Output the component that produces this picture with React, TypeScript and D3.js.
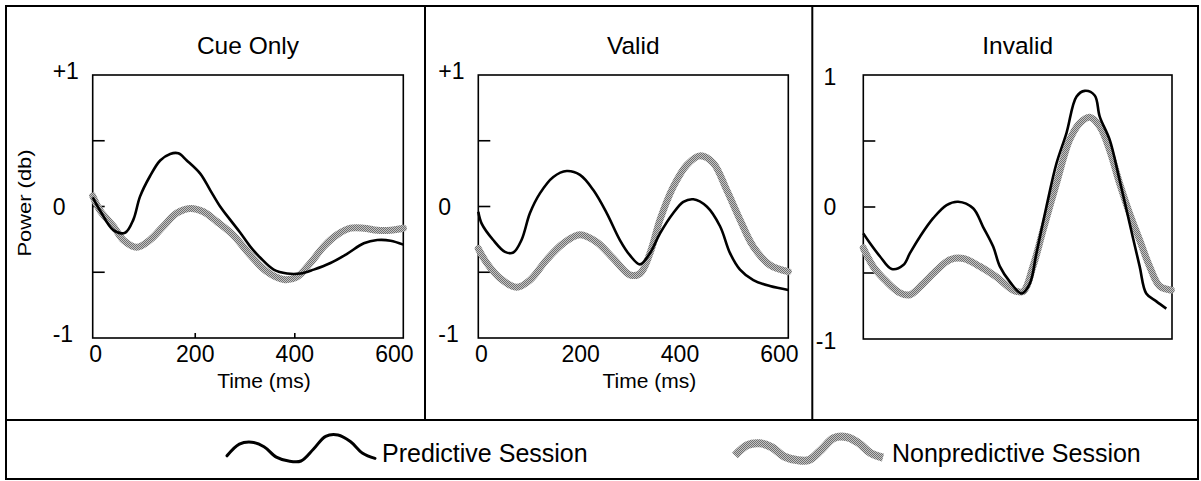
import React from "react";
import * as d3 from "d3";

// ---------- DATA ----------
const panelTitles = ["Cue Only", "Valid", "Invalid"];
const xTickValues = [0, 200, 400, 600];
const yLabelValues = [1, 0, -1];
const yLabelsSigned = ["+1", "0", "-1"];
const yLabelsPlain = ["1", "0", "-1"];
const yInnerTicks = [0.5, 0, -0.5];
const xBottomTicks = [200, 400];
const legendLabels = ["Predictive Session", "Nonpredictive Session"];
const legendWave = [-0.6, 0.3, 0.45, 0.1, -0.7, -1, -1, -0.1, 0.9, 1, 0.5, -0.4, -0.8];

// [time (ms), power (db)]
const cuePredictive: [number, number][] = [
  [-6, 0.07], [8.7, -0.03], [35.5, -0.18], [59, -0.2], [75.7, -0.1], [89, 0.075],
  [109, 0.23], [129.5, 0.35], [149.6, 0.4], [166, 0.405], [183, 0.35], [210, 0.25],
  [230, 0.125], [250, 0], [270, -0.1], [290.5, -0.2], [310.6, -0.305], [330.8, -0.39],
  [357.6, -0.48], [384.5, -0.51], [411, -0.51], [438, -0.48], [471.7, -0.43],
  [505, -0.36], [538.7, -0.28], [565.7, -0.255], [592.5, -0.26], [618, -0.29],
];
const cueNonpredictive: [number, number][] = [
  [-6, 0.08], [8.7, -0.03], [35.5, -0.15], [55.6, -0.255], [82.6, -0.31], [109, -0.255],
  [136, -0.15], [163, -0.05], [190, -0.015], [216.6, -0.04], [243.6, -0.115],
  [277, -0.22], [310.6, -0.37], [344, -0.495], [377.7, -0.555], [404.6, -0.535],
  [431.4, -0.43], [458, -0.305], [485, -0.215], [512, -0.165], [538.7, -0.165],
  [565.7, -0.18], [592.5, -0.18], [618, -0.165],
];
const validPredictive: [number, number][] = [
  [-6, -0.04], [0.8, -0.13], [24, -0.255], [47.7, -0.345], [64.5, -0.35], [81, -0.255],
  [98, -0.05], [118, 0.1], [145, 0.225], [172, 0.27], [198.7, 0.24], [225.5, 0.125],
  [252.5, -0.05], [279, -0.255], [299, -0.37], [319.5, -0.44], [339.6, -0.355],
  [359.8, -0.205], [386.5, -0.05], [406.7, 0.035], [426.8, 0.055], [453.8, 0],
  [480.6, -0.15], [500.7, -0.355], [520.8, -0.48], [547.6, -0.56], [581, -0.605],
  [618, -0.635],
];
const validNonpredictive: [number, number][] = [
  [-6, -0.32], [11, -0.43], [37.7, -0.545], [71, -0.615], [98, -0.56], [131.7, -0.405],
  [165, -0.28], [198.7, -0.215], [232, -0.27], [265.8, -0.395], [299, -0.52],
  [319.5, -0.51], [339.6, -0.355], [359.8, -0.1], [386.5, 0.15], [413.5, 0.315],
  [440, 0.385], [467, 0.33], [494, 0.125], [520.8, -0.1], [547.6, -0.305],
  [581, -0.445], [618, -0.495],
];
const invalidPredictive: [number, number][] = [
  [-6, -0.2], [7.6, -0.275], [27.8, -0.375], [51.4, -0.47], [74.8, -0.44], [88.3, -0.35],
  [108.5, -0.225], [135.3, -0.085], [162.4, 0.015], [185.8, 0.04], [216, -0.01],
  [236, -0.15], [256.5, -0.3], [270, -0.45], [290, -0.565], [313.8, -0.655],
  [330.6, -0.58], [344, -0.35], [364, 0], [384.5, 0.33], [404.7, 0.56], [424.8, 0.835],
  [441.6, 0.88], [461.8, 0.845], [471.9, 0.685], [492, 0.51], [512, 0.205],
  [532.4, -0.125], [552.6, -0.45], [566, -0.655], [586.4, -0.715], [606.5, -0.77],
];
const invalidNonpredictive: [number, number][] = [
  [-6, -0.31], [14, -0.45], [41, -0.565], [68, -0.65], [88.3, -0.665], [115, -0.58],
  [142, -0.48], [169, -0.4], [196, -0.39], [229.6, -0.45], [263, -0.53], [297, -0.63],
  [317, -0.64], [337, -0.45], [357.4, -0.175], [384.5, 0.18], [411.3, 0.51],
  [431.5, 0.635], [451.7, 0.68], [472, 0.61], [492, 0.43], [512, 0.18], [532.4, -0.05],
  [552.6, -0.25], [572.7, -0.45], [593, -0.6], [616.6, -0.63],
];

const predictiveSeries = [cuePredictive, validPredictive, invalidPredictive];
const nonpredictiveSeries = [cueNonpredictive, validNonpredictive, invalidNonpredictive];

// ---------- LAYOUT ----------
const W = 1201;
const H = 481;
const FONT = "'Liberation Sans', Arial, Helvetica, sans-serif";
const xDomain: [number, number] = [-6, 618];
const yDomain: [number, number] = [-1, 1];

const panels = [
  { left: 92.7, right: 403.3, top: 75, bottom: 338, labels: yLabelsSigned, anchor: "start", labelDx: -40, extremeShift: -4, xLabels: true, xTicks: true, power: true },
  { left: 478.3, right: 788.3, top: 75, bottom: 338, labels: yLabelsSigned, anchor: "start", labelDx: -40, extremeShift: -4, xLabels: true, xTicks: false, power: false },
  { left: 863.3, right: 1172, top: 75, bottom: 339, labels: yLabelsPlain, anchor: "end", labelDx: -27, extremeShift: 1.5, xLabels: false, xTicks: false, power: false },
];

const frame = { left: 6, top: 6, right: 1198, bottom: 479, legendTop: 420 };
const dividers = [425, 812.3];

export default function App() {
  const legendX0 = d3.scaleLinear().domain([0, legendWave.length - 1]).range([227, 375]);
  const legendX1 = d3.scaleLinear().domain([0, legendWave.length - 1]).range([735, 883]);
  const legendY = d3.scaleLinear().domain([-1, 1]).range([461, 435]);
  const legendYGray = d3.scaleLinear().domain([-1, 1]).range([460, 437]);
  const waveLine = (xs: d3.ScaleLinear<number, number>, ys: d3.ScaleLinear<number, number>) =>
    d3.line<number>().x((_, i) => xs(i)).y((v) => ys(v)).curve(d3.curveCatmullRom.alpha(0.5))(legendWave) || "";

  return (
    <svg
      width={W}
      height={H}
      style={{ position: "absolute", left: 0, top: 0, background: "#fff" }}
      fontFamily={FONT}
    >
      <defs>
        <pattern id="grayTex" width={2} height={2} patternUnits="userSpaceOnUse">
          <rect width={2} height={2} fill="#c4c4c4" />
          <rect width={1} height={1} fill="#707070" />
          <rect x={1} y={1} width={1} height={1} fill="#707070" />
        </pattern>
      </defs>
      <rect width={W} height={H} fill="#fff" />

      {panels.map((p, i) => {
        const x = d3.scaleLinear().domain(xDomain).range([p.left, p.right]);
        const y = d3.scaleLinear().domain(yDomain).range([p.bottom, p.top]);
        const line = d3
          .line<[number, number]>()
          .x((d) => x(d[0]))
          .y((d) => y(d[1]))
          .curve(d3.curveCatmullRom.alpha(0.5));
        const cx = (p.left + p.right) / 2;
        return (
          <g key={i}>
            <text x={cx} y={54} textAnchor="middle" fontSize={24.5} fill="#000">
              {panelTitles[i]}
            </text>
            <rect
              x={p.left}
              y={p.top}
              width={p.right - p.left}
              height={p.bottom - p.top}
              fill="none"
              stroke="#000"
              strokeWidth={1.6}
            />
            {yInnerTicks.map((v) => (
              <line key={v} x1={p.left} x2={p.left + 12} y1={y(v)} y2={y(v)} stroke="#000" strokeWidth={1.6} />
            ))}
            {p.xTicks &&
              xBottomTicks.map((t) => (
                <line key={t} x1={x(t)} x2={x(t)} y1={p.bottom} y2={p.bottom - 5} stroke="#000" strokeWidth={1.6} />
              ))}
            {yLabelValues.map((v, j) => (
              <text
                key={v}
                x={p.left + p.labelDx}
                y={y(v) + (Math.abs(v) === 1 ? p.extremeShift : 0)}
                dy="0.36em"
                textAnchor={p.anchor as any}
                fontSize={23}
                fill="#000"
              >
                {p.labels[j]}
              </text>
            ))}
            {p.xLabels &&
              xTickValues.map((t) => (
                <text key={t} x={x(t)} y={362} textAnchor="middle" fontSize={23} fill="#000">
                  {t}
                </text>
              ))}
            {p.xLabels && (
              <text x={cx + 16} y={388} textAnchor="middle" fontSize={21} fill="#000">
                Time (ms)
              </text>
            )}
            {p.power && (
              <text
                transform={`translate(31,203) rotate(-90)`}
                textAnchor="middle"
                fontSize={18}
                textLength={107}
                lengthAdjust="spacingAndGlyphs"
                fill="#000"
              >
                Power (db)
              </text>
            )}
            <path
              d={line(nonpredictiveSeries[i]) || ""}
              fill="none"
              stroke="url(#grayTex)"
              strokeWidth={7}
              strokeLinejoin="round"
              strokeLinecap="round"
            />
            <path
              d={line(predictiveSeries[i]) || ""}
              fill="none"
              stroke="#000"
              strokeWidth={2.6}
              strokeLinejoin="round"
            />
          </g>
        );
      })}

      {/* frame */}
      <rect
        x={frame.left}
        y={frame.top}
        width={frame.right - frame.left}
        height={frame.bottom - frame.top}
        fill="none"
        stroke="#000"
        strokeWidth={2}
      />
      {dividers.map((dx) => (
        <line key={dx} x1={dx} x2={dx} y1={frame.top} y2={frame.legendTop} stroke="#000" strokeWidth={2} />
      ))}
      <line x1={frame.left} x2={frame.right} y1={frame.legendTop} y2={frame.legendTop} stroke="#000" strokeWidth={2} />

      {/* legend */}
      <path d={waveLine(legendX0, legendY)} fill="none" stroke="#000" strokeWidth={3} strokeLinecap="round" />
      <text x={382} y={462} fontSize={25} fill="#000">
        {legendLabels[0]}
      </text>
      <path d={waveLine(legendX1, legendYGray)} fill="none" stroke="url(#grayTex)" strokeWidth={8} />
      <text x={892} y={462} fontSize={25} fill="#000">
        {legendLabels[1]}
      </text>
    </svg>
  );
}
